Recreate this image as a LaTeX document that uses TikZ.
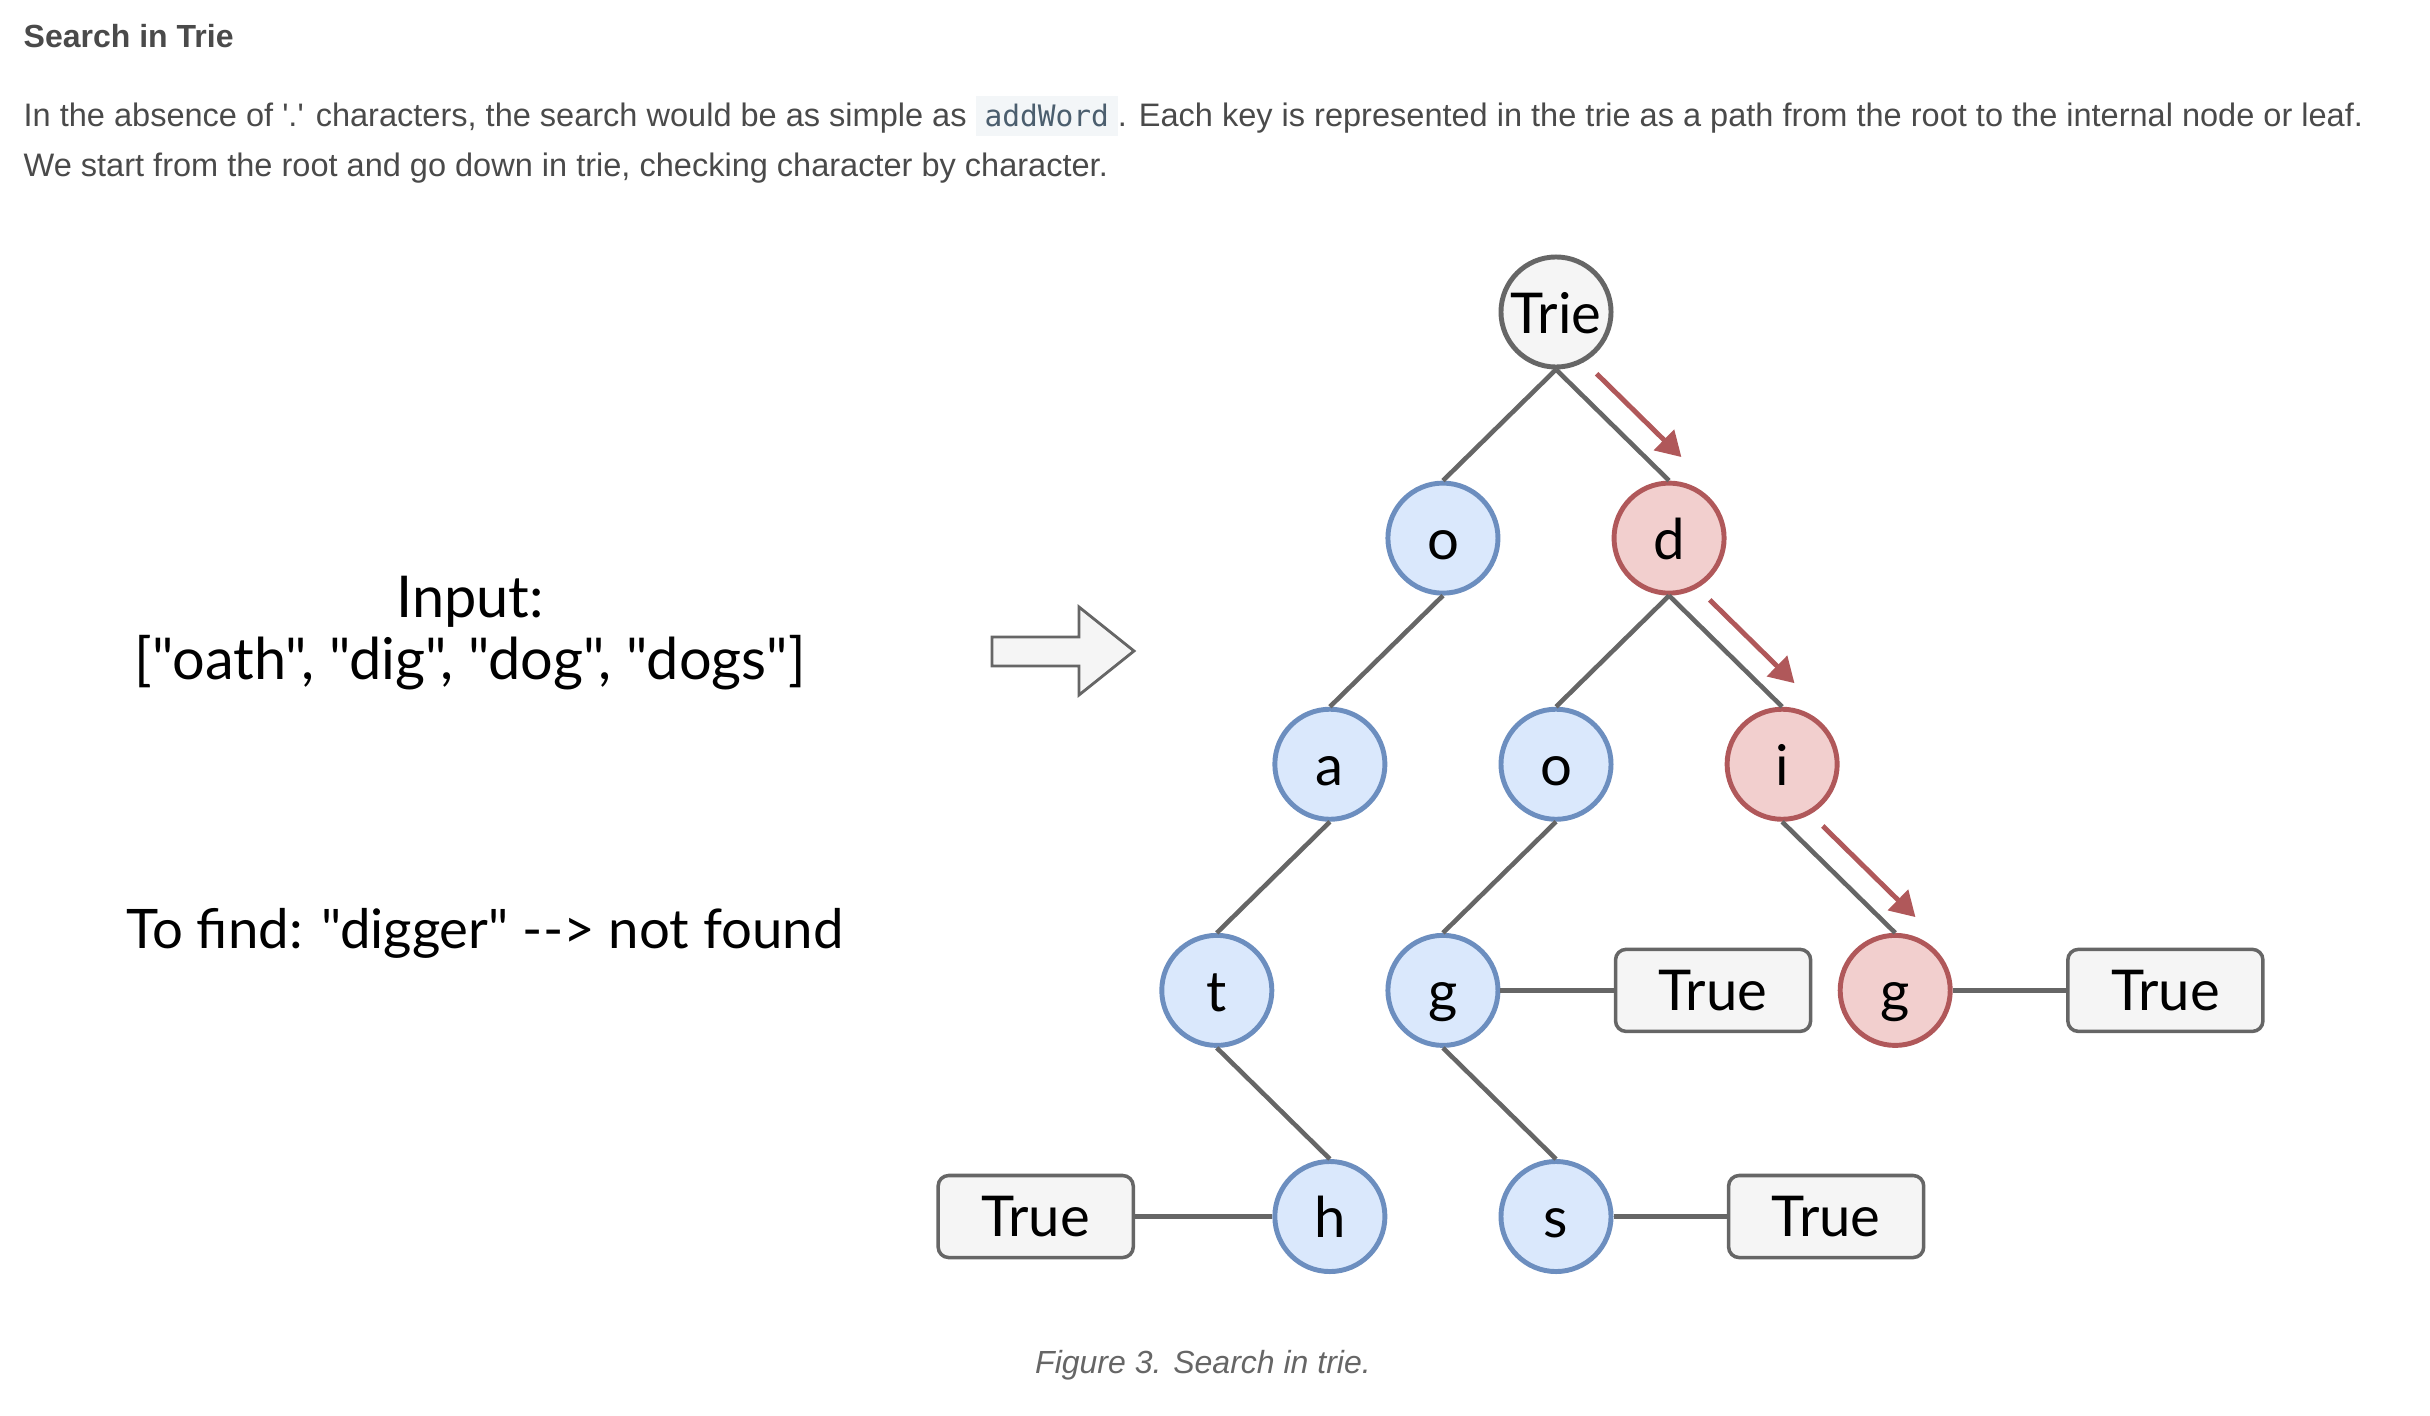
\documentclass[tikz,border=0pt]{standalone}
\usepackage{fontspec}
\setmainfont{Liberation Sans}
\setmonofont{DejaVu Sans Mono}
\newfontfamily\handfont{Lato}
\usetikzlibrary{positioning,calc,arrows.meta}

\definecolor{bluefill}{HTML}{DAE8FC}
\definecolor{blueline}{HTML}{6C8EBF}
\definecolor{redfill}{HTML}{F2CFCE}
\definecolor{redline}{HTML}{B0585A}
\definecolor{greyfill}{HTML}{F5F5F5}
\definecolor{greyline}{HTML}{666666}
\definecolor{bodytext}{HTML}{4A4A4A}
\definecolor{codebg}{HTML}{F3F6F8}
\definecolor{codetext}{HTML}{4B5E6E}

\begin{document}
\begin{tikzpicture}[x=0.01cm, y=-0.01cm, node distance=2.26cm and 1.13cm, on grid]
\tikzstyle{letter} = [circle, draw=blueline, fill=bluefill, line width=1.4pt, minimum size=1.1cm, inner sep=0pt, text height=14pt, text depth=2pt, font=\handfont\fontsize{16}{18}\selectfont]
\tikzstyle{hit} = [letter, draw=redline, fill=redfill]
\tikzstyle{root} = [letter, draw=greyline, fill=greyfill]
\tikzstyle{flag} = [rectangle, draw=greyline, fill=greyfill, line width=1pt, rounded corners=3pt, minimum width=1.95cm, minimum height=0.82cm, font=\handfont\fontsize{16}{18}\selectfont]
\tikzstyle{link} = [draw=greyline, line width=1.3pt]
\tikzstyle{trail} = [draw=redline, line width=1.4pt, -{Triangle[length=7pt,width=8pt]}]
\tikzstyle{prose} = [anchor=base west, inner sep=0pt, text=bodytext, font=\fontsize{9.25}{11}\selectfont]

\useasboundingbox (0,0) rectangle (2430,1416);

% page text
\node (heading) [prose, font=\bfseries\fontsize{9.1}{11}\selectfont] at (23,48) {Search in Trie};
\node (line1) [prose] at (23,127) {In the absence of \textquotesingle.\textquotesingle{} characters, the search would be as simple as {\setlength\fboxsep{2.5pt}\fontsize{8.4}{10}\selectfont\colorbox{codebg}{\ttfamily\color{codetext}addWord}}. Each key is represented in the trie as a path from the root to the internal node or leaf.};
\node (line2) [prose] at (23,177) {We start from the root and go down in trie, checking character by character.};

% left side
\node (input) [align=center, font=\handfont\fontsize{16.4}{17.6}\selectfont] at (470,633) {Input:\\{}["oath", "dig", "dog", "dogs"]};
\node (query) [font=\handfont\fontsize{15.5}{18}\selectfont] at (485,933) {To find: "digger" -{}-> not found};
\draw [greyline, fill=greyfill, line width=0.8pt] (992,637) -- (1079,637) -- (1079,607) -- (1134,651) -- (1079,695) -- (1079,666) -- (992,666) -- cycle;

% trie
\node (trie) [root] at (1556,312) {Trie};
\node (o) [letter, below left=of trie] {o};
\node (d) [hit, below right=of trie] {d};
\node (oa) [letter, below left=of o] {a};
\node (do) [letter, below left=of d] {o};
\node (di) [hit, below right=of d] {i};
\node (oat) [letter, below left=of oa] {t};
\node (dog) [letter, below left=of do] {g};
\node (dig) [hit, below right=of di] {g};
\node (oath) [letter, below right=of oat] {h};
\node (dogs) [letter, below right=of dog] {s};

\node (dogend) [flag, right=2.7cm of dog] {True};
\node (digend) [flag, right=2.7cm of dig] {True};
\node (oathend) [flag, left=2.94cm of oath] {True};
\node (dogsend) [flag, right=2.7cm of dogs] {True};

\draw [link] (trie.south) -- (o.north);
\draw [link] (trie.south) -- (d.north);
\draw [link] (o.south) -- (oa.north);
\draw [link] (d.south) -- (do.north);
\draw [link] (d.south) -- (di.north);
\draw [link] (oa.south) -- (oat.north);
\draw [link] (do.south) -- (dog.north);
\draw [link] (di.south) -- (dig.north);
\draw [link] (oat.south) -- (oath.north);
\draw [link] (dog.south) -- (dogs.north);
\draw [link] (dog.east) -- (dogend.west);
\draw [link] (dig.east) -- (digend.west);
\draw [link] (oathend.east) -- (oath.west);
\draw [link] (dogs.east) -- (dogsend.west);

% search path
\draw [trail] ($(trie.south)!0.2!(d.north)+(18,-18)$) -- ($(trie.south)!0.95!(d.north)+(18,-18)$);
\draw [trail] ($(d.south)!0.2!(di.north)+(18,-18)$) -- ($(d.south)!0.95!(di.north)+(18,-18)$);
\draw [trail] ($(di.south)!0.2!(dig.north)+(18,-18)$) -- ($(di.south)!1.02!(dig.north)+(18,-18)$);

\node (caption) [font=\itshape\fontsize{9.1}{11}\selectfont, text=greyline] at (1203,1365) {Figure 3. Search in trie.};
\end{tikzpicture}
\end{document}
